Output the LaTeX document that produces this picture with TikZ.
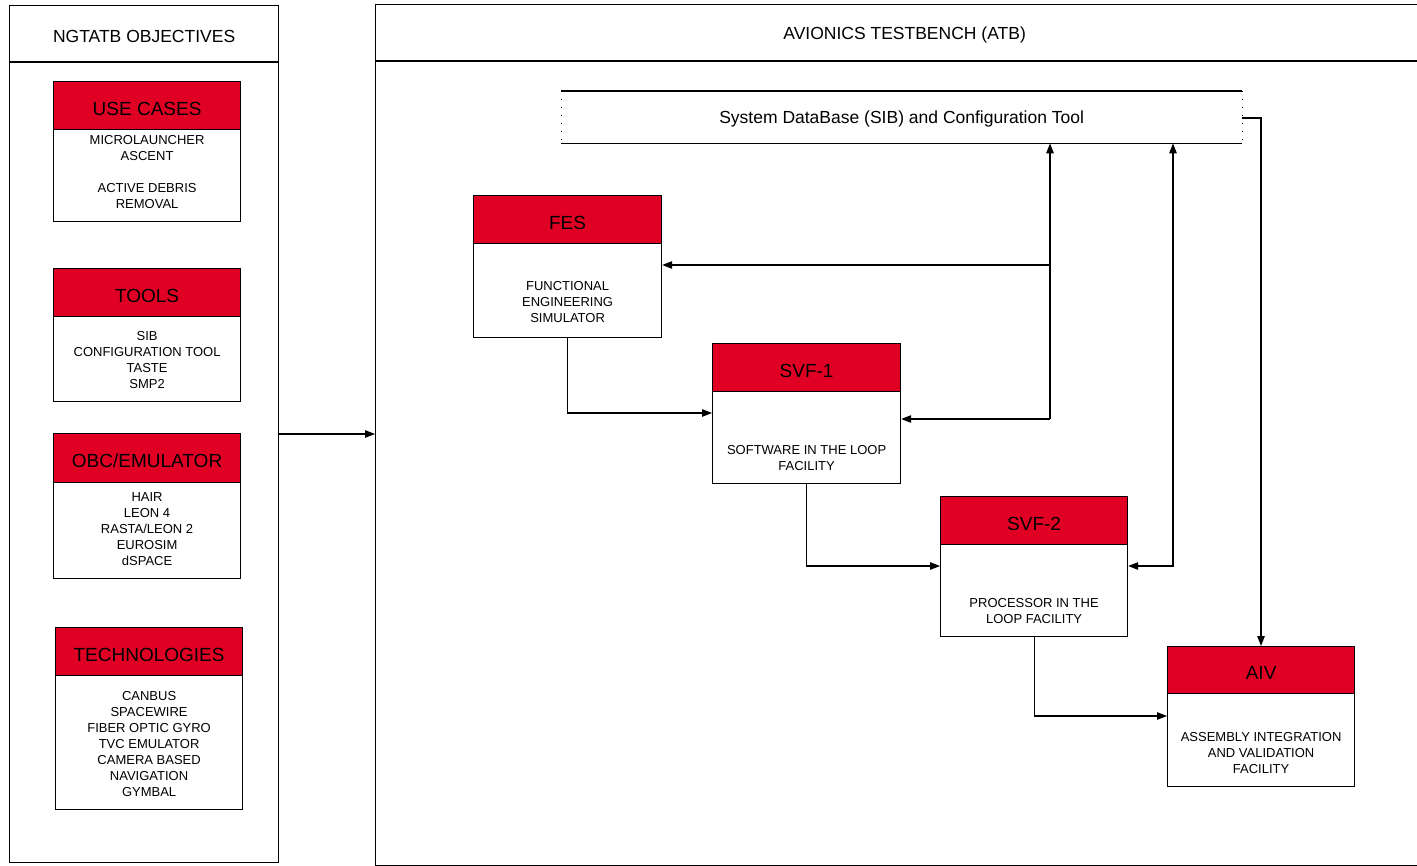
\documentclass[tikz,border=0pt]{standalone}
\usepackage{fontspec}
\setmainfont{Liberation Sans}
\usetikzlibrary{arrows.meta,calc}
\definecolor{atbred}{HTML}{E00024}
\tikzset{
  box/.style={draw, line width=1.2pt, fill=white, inner sep=0pt, anchor=north west},
  hdr/.style={draw, line width=1.2pt, fill=atbred, inner sep=0pt, anchor=north west},
  hdrtxt/.style={font=\fontsize{19}{22}\selectfont, inner sep=0pt, yshift=-3pt},
  bodytxt/.style={font=\fontsize{13}{16}\selectfont, align=center, inner sep=0pt},
  ttl/.style={font=\fontsize{17.5}{20}\selectfont, inner sep=0pt},
  arr/.style={line width=1.2pt, -{Triangle[length=10pt,width=7.5pt]}},
  biarr/.style={line width=1.2pt, {Triangle[length=10pt,width=7.5pt]}-{Triangle[length=10pt,width=7.5pt]}},
}
% name, x, y, w, h, header h, title, text centre y, text
\newcommand\compbox[9]{%
  \node[box, minimum width=#4pt, minimum height=#5pt] (#1) at (#2,#3) {};
  \node[hdr, minimum width=#4pt, minimum height=#6pt] (#1H) at (#2,#3) {};
  \node[hdrtxt] (#1L) at (#1H.center) {#7};
  \node[bodytxt] (#1T) at (#1.north |- 0,#8) {#9};
}
\begin{document}
\begin{tikzpicture}[x=1pt,y=-1pt]
\useasboundingbox (0,0) rectangle (1417,866);

% panels
\node[box, minimum width=269pt, minimum height=857pt] (lp) at (9,5) {};
\coordinate (lpl) at (9,62);
\draw[line width=1.2pt] (lpl) -- (lpl -| lp.east);
\node[ttl] (lpT) at (lp.north |- 0,36) {NGTATB OBJECTIVES};

\node[box, minimum width=1058pt, minimum height=861pt] (rp) at (375,4) {};
\coordinate (rpl) at (375,61);
\draw[line width=1.2pt] (rpl) -- (rpl -| rp.east);
\node[ttl] (rpT) at (rp.north |- 0,35) {AVIONICS TESTBENCH (ATB)};

% left panel boxes
\compbox{uc}{53}{81}{187}{140}{48}{USE CASES}{172}{MICROLAUNCHER\\ASCENT\\[16pt]ACTIVE DEBRIS\\REMOVAL}
\compbox{tl}{53}{268}{187}{133}{48}{TOOLS}{360.5}{SIB\\CONFIGURATION TOOL\\TASTE\\SMP2}
\compbox{obc}{53}{433}{187}{145}{49}{OBC/EMULATOR}{529.5}{HAIR\\LEON 4\\RASTA/LEON 2\\EUROSIM\\dSPACE}
\compbox{tec}{55}{627}{187}{182}{48}{TECHNOLOGIES}{744.5}{CANBUS\\SPACEWIRE\\FIBER OPTIC GYRO\\TVC EMULATOR\\CAMERA BASED\\NAVIGATION\\GYMBAL}

% right panel
\node[minimum width=681pt, minimum height=52pt, inner sep=0pt, anchor=north west] (sib) at (561,91) {};
\node[ttl, yshift=-2pt] (sibT) at (sib.center) {System DataBase (SIB) and Configuration Tool};
\draw[line width=1.5pt] (sib.north west) -- (sib.north east);
\draw[line width=1.5pt] (sib.south west) -- (sib.south east);
\draw[line width=1pt, dash pattern=on 1pt off 7pt] (sib.north west) -- (sib.south west);
\draw[line width=1pt, dash pattern=on 1pt off 7pt] (sib.north east) -- (sib.south east);

\compbox{fes}{473}{195}{188}{142}{48}{FES}{302}{FUNCTIONAL\\ENGINEERING\\SIMULATOR}
\compbox{sva}{712}{343}{188}{140}{48}{SVF-1}{458}{SOFTWARE IN THE LOOP\\FACILITY}
\compbox{svb}{940}{496}{187}{140}{48}{SVF-2}{611}{PROCESSOR IN THE\\LOOP FACILITY}
\compbox{aiv}{1167}{646}{187}{140}{47}{AIV}{753}{ASSEMBLY INTEGRATION\\AND VALIDATION\\FACILITY}

% connectors
\coordinate (p0) at (278,434);
\draw[arr] (p0) -- (p0 -| rp.west);

\coordinate (j1) at (1050,265);
\coordinate (j2) at (1050,419);
\draw[arr] (j2) -- (j2 |- sib.south);
\draw[arr] (j1) -- (j1 -| fes.east);
\draw[arr] (j2) -- (j2 -| sva.east);

\coordinate (j3) at (1173,566);
\draw[biarr] (j3 -| svb.east) -- (j3) -- (j3 |- sib.south);

\coordinate (j4) at (1261,118);
\draw[arr] (sib.east |- j4) -- (j4) -- (j4 |- aiv.north);

\coordinate (k1) at (568,413);
\draw[arr] (fes.south) -- (fes.south |- k1) -- (k1 -| sva.west);
\coordinate (k2) at (806,566);
\draw[arr] (sva.south) -- (sva.south |- k2) -- (k2 -| svb.west);
\coordinate (k3) at (1033,716);
\draw[arr] (svb.south) -- (svb.south |- k3) -- (k3 -| aiv.west);
\end{tikzpicture}
\end{document}
